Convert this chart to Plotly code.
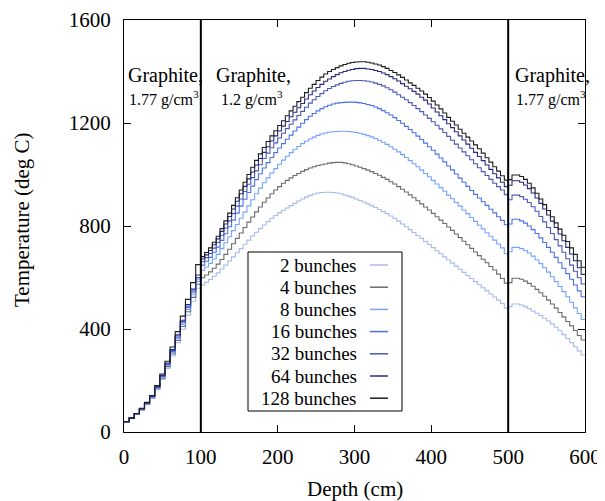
import numpy as np
import plotly.graph_objects as go

# ---------------- data ----------------
labels = ["2 bunches", "4 bunches", "8 bunches", "16 bunches",
          "32 bunches", "64 bunches", "128 bunches"]
colors = ["#a6bbea", "#6c6c6c", "#74a3ff", "#4a72e8",
          "#4b58b4", "#2a2a7e", "#1c1c1c"]

# mesh: 0-100 cm (15 cells), 100-500 cm (80 cells), 500-600 cm (20 cells)
edges_a = np.linspace(0, 100, 16)
edges_b = np.linspace(100, 500, 81)
edges_c = np.linspace(500, 600, 21)

# temperatures per cell, region A (graphite 1.77, 0-100 cm)
t2_a = [38, 52, 68, 85, 106, 130, 164, 204, 247, 295, 347, 399, 454, 508, 558]
t4_a = [39, 53, 69, 87, 108, 133, 168, 209, 254, 303, 356, 410, 467, 523, 574]
t8_a = [39, 53, 70, 88, 110, 135, 171, 213, 258, 309, 363, 418, 476, 533, 585]
t16_a = [40, 54, 70, 89, 111, 137, 173, 216, 262, 313, 368, 424, 483, 541, 594]
t32_a = [40, 54, 71, 90, 112, 138, 175, 218, 265, 317, 373, 429, 489, 548, 600]
t64_a = [40, 54, 71, 90, 113, 139, 176, 220, 268, 320, 377, 434, 495, 555, 610]
t128_a = [40, 55, 72, 92, 115, 142, 180, 225, 275, 330, 390, 450, 515, 580, 650]

# region B (graphite 1.2, 100-500 cm)
t2_b = [571, 581, 592, 605, 618, 633, 648, 664, 680, 696, 712, 729, 745, 761, 776, 790,
        804, 817, 830, 841, 851, 861, 870, 879, 888, 897, 905, 912, 919, 924, 928, 930,
        931, 931, 930, 928, 925, 921, 916, 911, 905, 899, 893, 886, 879, 872, 864, 856,
        848, 839, 830, 819, 808, 797, 786, 775, 763, 752, 740, 728, 716, 704, 692, 680,
        668, 656, 644, 632, 620, 608, 596, 584, 572, 560, 548, 536, 524, 512, 499, 481]
t4_b = [599, 610, 622, 636, 652, 670, 690, 710, 731, 752, 773, 794, 815, 835, 855, 874,
        892, 909, 925, 940, 953, 966, 977, 987, 996, 1004, 1012, 1019, 1025, 1030, 1035, 1038,
        1041, 1044, 1046, 1047, 1047, 1045, 1042, 1038, 1033, 1028, 1023, 1017, 1011, 1004, 997, 989,
        981, 972, 963, 953, 943, 932, 921, 910, 898, 886, 874, 862, 849, 836, 823, 810,
        796, 783, 769, 755, 741, 727, 713, 699, 685, 671, 657, 643, 629, 613, 596, 578]
t8_b = [628, 641, 655, 672, 690, 712, 735, 758, 782, 806, 830, 854, 878, 902, 925, 947,
        968, 987, 1006, 1023, 1040, 1056, 1071, 1085, 1098, 1109, 1120, 1129, 1138, 1145, 1152, 1157,
        1161, 1164, 1166, 1167, 1168, 1168, 1167, 1165, 1163, 1160, 1156, 1151, 1146, 1140, 1133, 1125,
        1117, 1108, 1098, 1088, 1077, 1066, 1054, 1042, 1030, 1017, 1004, 991, 977, 963, 949, 935,
        920, 906, 891, 877, 862, 848, 833, 818, 803, 789, 774, 760, 745, 730, 715, 692]
t16_b = [648, 663, 678, 698, 718, 744, 770, 797, 823, 850, 877, 904, 930, 955, 980, 1003,
         1025, 1046, 1066, 1085, 1103, 1120, 1137, 1153, 1169, 1184, 1199, 1213, 1226, 1237, 1247, 1256,
         1263, 1269, 1274, 1277, 1279, 1280, 1281, 1281, 1280, 1278, 1276, 1272, 1268, 1262, 1256, 1248,
         1240, 1231, 1221, 1210, 1199, 1187, 1175, 1162, 1149, 1136, 1122, 1108, 1094, 1079, 1064, 1049,
         1033, 1018, 1002, 986, 970, 954, 938, 923, 909, 894, 880, 865, 851, 836, 822, 805]
t32_b = [661, 677, 693, 714, 736, 764, 792, 820, 848, 877, 905, 934, 962, 988, 1014, 1038,
         1062, 1083, 1104, 1123, 1142, 1160, 1178, 1195, 1212, 1229, 1245, 1261, 1277, 1290, 1303, 1314,
         1325, 1334, 1342, 1348, 1354, 1358, 1362, 1364, 1365, 1365, 1364, 1362, 1359, 1355, 1350, 1344,
         1337, 1329, 1320, 1310, 1300, 1290, 1279, 1268, 1256, 1244, 1231, 1218, 1205, 1191, 1177, 1163,
         1148, 1133, 1118, 1103, 1088, 1073, 1057, 1042, 1026, 1011, 996, 981, 966, 953, 940, 922]
t64_b = [672, 688, 705, 727, 750, 779, 808, 837, 866, 896, 925, 954, 983, 1010, 1037, 1062,
         1086, 1108, 1130, 1150, 1169, 1188, 1206, 1224, 1242, 1259, 1276, 1293, 1310, 1324, 1338, 1350,
         1362, 1371, 1380, 1388, 1395, 1400, 1405, 1408, 1411, 1412, 1412, 1410, 1408, 1404, 1400, 1394,
         1388, 1380, 1372, 1363, 1353, 1343, 1333, 1323, 1312, 1300, 1289, 1274, 1258, 1243, 1228, 1213,
         1197, 1182, 1166, 1150, 1134, 1118, 1102, 1086, 1070, 1054, 1037, 1020, 1003, 987, 970, 953]
t128_b = [681, 697, 715, 737, 760, 790, 820, 850, 880, 910, 940, 970, 1000, 1028, 1055, 1080,
          1105, 1128, 1150, 1170, 1190, 1209, 1228, 1247, 1265, 1283, 1300, 1318, 1335, 1350, 1365, 1378,
          1390, 1400, 1408, 1415, 1422, 1427, 1432, 1435, 1437, 1438, 1438, 1436, 1433, 1429, 1425, 1419,
          1412, 1404, 1396, 1387, 1377, 1367, 1356, 1346, 1335, 1324, 1312, 1299, 1285, 1270, 1255, 1239,
          1222, 1207, 1192, 1176, 1160, 1145, 1130, 1115, 1100, 1083, 1065, 1048, 1030, 1013, 995, 978]

# region C (graphite 1.77, 500-600 cm)
t2_c = [487, 497, 497, 493, 487, 479, 470, 461, 452, 442, 431, 420, 407, 393, 378, 363, 347, 331, 315, 299]
t4_c = [580, 597, 597, 593, 586, 577, 566, 554, 541, 527, 512, 497, 481, 464, 447, 429, 412, 394, 375, 357]
t8_c = [700, 717, 717, 712, 705, 695, 683, 669, 654, 638, 621, 603, 584, 565, 545, 525, 504, 482, 460, 437]
t16_c = [808, 826, 826, 820, 811, 800, 786, 771, 754, 736, 717, 698, 678, 657, 636, 615, 593, 571, 548, 525]
t32_c = [902, 920, 920, 914, 904, 891, 875, 857, 837, 816, 794, 771, 747, 723, 698, 673, 648, 624, 599, 575]
t64_c = [958, 976, 976, 970, 959, 945, 928, 909, 888, 866, 843, 819, 794, 769, 743, 717, 691, 665, 638, 612]
t128_c = [980, 998, 998, 992, 981, 966, 948, 927, 905, 883, 860, 836, 812, 788, 764, 740, 715, 690, 665, 640]

series = [
    t2_a + t2_b + t2_c,
    t4_a + t4_b + t4_c,
    t8_a + t8_b + t8_c,
    t16_a + t16_b + t16_c,
    t32_a + t32_b + t32_c,
    t64_a + t64_b + t64_c,
    t128_a + t128_b + t128_c,
]

x_ticks = [0, 100, 200, 300, 400, 500, 600]
y_ticks = [0, 400, 800, 1200, 1600]
boundaries = [100, 500]

# ---------------- figure ----------------
W, H = 605, 501
OFF = 8                      # page body margin offset
PL, PR, PT, PB = 124, 585, 20, 432   # wanted plot box in window pixels
ML, MT = PL - OFF, PT - OFF
MR = W - (PR - OFF)
MB = H - (PB - OFF)
PW, PH = PR - PL, PB - PT


def px_x(px):
    return (px - PL) / PW


def px_y(py):
    return (PB - py) / PH


FONT = "Liberation Serif, Times New Roman, serif"
x_edges = np.concatenate([edges_a[:-1], edges_b[:-1], edges_c])

fig = go.Figure()
for lab, col, vals in zip(labels, colors, series):
    fig.add_trace(go.Scatter(
        x=x_edges, y=list(vals) + [vals[-1]],
        mode="lines", line=dict(color=col, width=1.1, shape="hv"),
        name=lab, showlegend=False, hoverinfo="skip"))

shapes = []
for b in boundaries:
    shapes.append(dict(type="line", xref="x", yref="paper", x0=b, x1=b, y0=0, y1=1,
                       line=dict(color="black", width=2)))

# manual legend (text then line sample, boxed)
shapes.append(dict(type="rect", xref="paper", yref="paper",
                   x0=px_x(248), x1=px_x(402), y0=px_y(411), y1=px_y(252),
                   line=dict(color="black", width=1), fillcolor="white", layer="above"))
annotations = []
for i, (lab, col) in enumerate(zip(labels, colors)):
    yy = 265 + i * 22.2
    annotations.append(dict(xref="paper", yref="paper", x=px_x(359), y=px_y(yy),
                            text=lab, showarrow=False, xanchor="right", yanchor="middle",
                            font=dict(family=FONT, size=19, color="black")))
    shapes.append(dict(type="line", xref="paper", yref="paper",
                       x0=px_x(370), x1=px_x(388), y0=px_y(yy), y1=px_y(yy),
                       line=dict(color=col, width=1.5), layer="above"))


def region_label(x_px, t1, t2):
    annotations.append(dict(xref="paper", yref="paper", x=px_x(x_px), y=px_y(75),
                            text=t1, showarrow=False, xanchor="left", yanchor="middle",
                            font=dict(family=FONT, size=20, color="black")))
    annotations.append(dict(xref="paper", yref="paper", x=px_x(x_px + 0.5), y=px_y(98),
                            text=t2, showarrow=False, xanchor="left", yanchor="middle",
                            font=dict(family=FONT, size=16, color="black")))


region_label(126, "Graphite,", "1.77 g/cm<sup>3</sup>")
region_label(214, "Graphite,", " 1.2 g/cm<sup>3</sup>")
region_label(513, "Graphite,", "1.77 g/cm<sup>3</sup>")

# axis titles
annotations.append(dict(xref="paper", yref="paper", x=px_x(355), y=px_y(489),
                        text="Depth (cm)", showarrow=False, xanchor="center", yanchor="middle",
                        font=dict(family=FONT, size=21, color="black")))
annotations.append(dict(xref="paper", yref="paper", x=px_x(22), y=px_y(220),
                        text="Temperature (deg C)", showarrow=False, textangle=-90,
                        xanchor="center", yanchor="middle",
                        font=dict(family=FONT, size=21, color="black")))

axis_common = dict(showgrid=False, zeroline=False, showline=True, linecolor="black",
                   linewidth=1, mirror="ticks", ticks="inside", ticklen=7,
                   tickcolor="black", tickwidth=1, automargin=False,
                   tickfont=dict(family=FONT, size=21, color="black"))

fig.update_layout(
    width=W, height=H,
    margin=dict(l=ML, r=MR, t=MT, b=MB, pad=0, autoexpand=False),
    paper_bgcolor="white", plot_bgcolor="white",
    xaxis=dict(range=[0, 600], tickvals=x_ticks, ticklabelstandoff=6, **axis_common),
    yaxis=dict(range=[0, 1600], tickvals=y_ticks, ticklabelstandoff=8, **axis_common),
    shapes=shapes, annotations=annotations, showlegend=False,
)

fig.write_html("out.html")
